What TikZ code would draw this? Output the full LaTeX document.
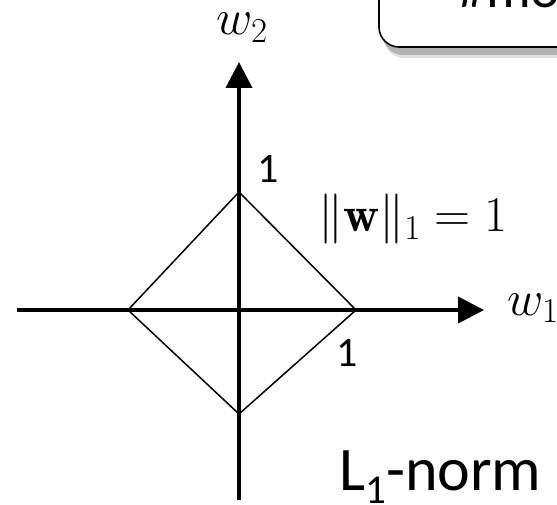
\RequirePackage{fix-cm}
\documentclass[tikz,border=0pt]{standalone}
\usepackage{fontspec}
\newfontfamily\calfont{Carlito}
\usetikzlibrary{arrows.meta}
\begin{document}
\begin{tikzpicture}[x=1pt,y=-1pt,
  axisline/.style={line width=4pt,-{Triangle[length=26pt,width=26pt]}},
  diamondline/.style={line width=1.5pt,line join=miter},
  numlabel/.style={inner sep=0pt,anchor=base,font=\calfont\fontsize{42}{46}\selectfont},
  mathlabel/.style={inner sep=0pt,font=\fontsize{50}{56}\selectfont},
  boxshape/.style={rounded corners=20pt,line width=1.6pt}
]
\useasboundingbox (0,0) rectangle (557,505);
\clip (0,0) rectangle (557,505);
% box with shadow
\fill[black!12,rounded corners=20pt] (384,-30) rectangle (620,58);
\fill[black!30,rounded corners=20pt] (383,-30) rectangle (620,55);
\filldraw[boxshape,fill=white,draw=black] (379,-30) rectangle (620,47);
\node[inner sep=0pt,anchor=base west,font=\calfont\fontsize{56}{60}\selectfont] (boxtext) at (458,8) {\#mo};
% coordinates
\coordinate (xs) at (17,310);
\coordinate (xe) at (484,310);
\coordinate (ys) at (239,500);
\coordinate (ye) at (239,62);
\coordinate (top) at (239,192);
\coordinate (right) at (356,310);
\coordinate (bot) at (239,414);
\coordinate (left) at (128,310);
% diamond
\draw[diamondline] (top) -- (right) -- (bot) -- (left) -- cycle;
% axes
\draw[axisline] (xs) -- (xe);
\draw[axisline] (ys) -- (ye);
% labels
\node[mathlabel,anchor=base] (w2) at (242,35) {$w_2$};
\node[mathlabel,anchor=base west] (w1) at (507,315) {$w_1$};
\node[mathlabel,anchor=base west] (norm) at (318,232) {$\|\mathbf{w}\|_1 = 1$};
\node[numlabel] (one1) at (268,183) {1};
\node[numlabel] (one2) at (347,366) {1};
\node[inner sep=0pt,anchor=base west,font=\calfont\fontsize{62}{66}\selectfont] (lnorm) at (339,490) {L\raisebox{-0.22em}{\fontsize{41}{45}\selectfont 1}-norm};
\end{tikzpicture}
\end{document}
